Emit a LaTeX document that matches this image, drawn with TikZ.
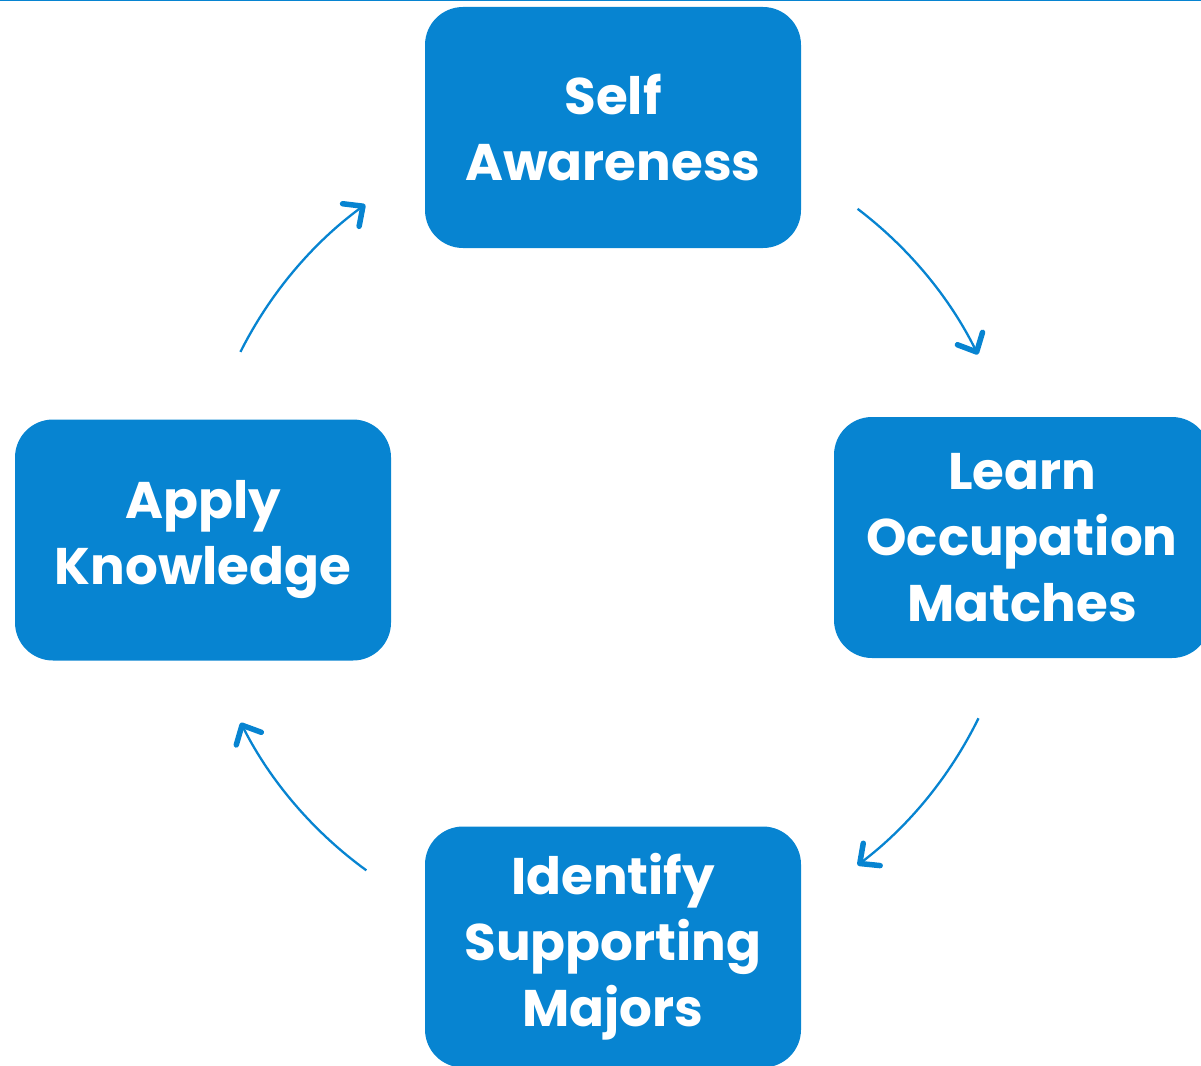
\documentclass[tikz,border=0pt]{standalone}
\usepackage{fontspec}
\setmainfont{Poppins}
\usetikzlibrary{arrows.meta,calc}
\definecolor{boxblue}{RGB}{7,132,209}
\tikzset{
  box/.style={fill=boxblue, rounded corners=38pt, minimum width=376pt, minimum height=241pt,
    text=white, align=center, inner sep=0pt, font=\fontsize{51.5}{66}\selectfont\bfseries},
  cyc/.style={draw=boxblue, line width=2.3pt,
    -{Straight Barb[length=15pt, width=28pt, line width=5.5pt, round]}},
}
\begin{document}
\begin{tikzpicture}[x=1pt,y=1pt]
\useasboundingbox (0,0) rectangle (1201,-1065);
\draw[boxblue, line width=1.5pt] (0,-0.75) -- (1201,-0.75);
\node[box] (self) at (613,-127.5) {Self\\Awareness};
\node[box] (learn) at (1022,-537.5) {Learn\\Occupation\\Matches};
\node[box] (apply) at (203,-540) {Apply\\Knowledge};
\node[box] (ident) at (613,-947) {Identify\\Supporting\\Majors};
\coordinate (c) at (608.5,-537);
\coordinate (a1s) at ($(c)+(52.8:412)$);
\coordinate (a2s) at ($(c)+(-26.1:412)$);
\coordinate (a3s) at ($(c)+(-126.0:412)$);
\coordinate (a4s) at ($(c)+(153.3:412)$);
\draw[cyc] (a1s) arc[start angle=52.8, end angle=26.3, radius=412];
\draw[cyc] (a2s) arc[start angle=-26.1, end angle=-52.8, radius=412];
\draw[cyc] (a3s) arc[start angle=-126.0, end angle=-153.2, radius=412];
\draw[cyc] (a4s) arc[start angle=153.3, end angle=126.2, radius=412];
\end{tikzpicture}
\end{document}
